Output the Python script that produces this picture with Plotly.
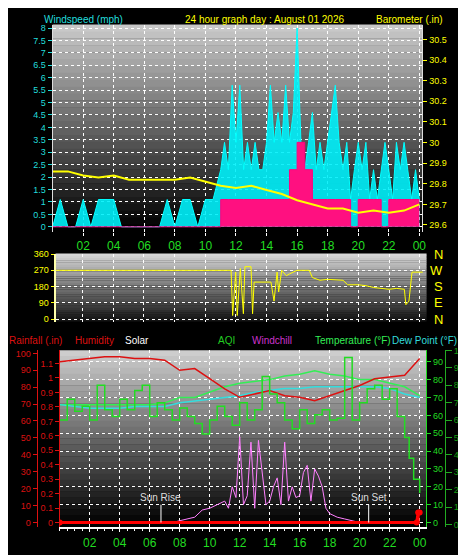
import plotly.graph_objects as go

# ---- data ----
gust_t = [i * 0.5 for i in range(22)] + [11 + i * 0.25 for i in range(53)]
gust = [0, 1.1, 0, 0, 1.1, 0, 1.1, 1.1, 1.1, 0, 0, 0, 0, 0, 0, 1.1,
        0, 1.1, 1.1, 0, 1.1, 1.1,
        2.3, 3.4, 2.3, 5.7, 3.4, 5.7, 2.3, 3.4, 2.3, 3.4, 2.3, 2.3, 3.4, 5.7,
        3.4, 4.6, 3.4, 5.7, 3.4, 4.6, 8.0, 3.4, 2.3, 3.4, 4.6, 2.3, 3.4, 2.3,
        3.4, 4.6, 5.7, 3.4, 2.3, 3.4, 1.1, 2.3, 3.4, 2.3, 3.4, 1.1, 2.3, 1.1,
        2.3, 3.4, 2.3, 1.1, 3.4, 2.3, 3.4, 2.3, 1.1, 2.3, 1.1]
half_hours = [i * 0.5 for i in range(49)]
avg_wind = [0] * 22 + [1.1, 1.1, 1.1, 1.1, 1.1, 1.1, 1.1, 1.1, 1.1, 2.3,
                       3.4, 2.3, 1.1, 1.1, 1.1, 1.1, 1.1, 0, 1.1, 1.1, 1.1, 0,
                       1.1, 1.1, 1.1, 1.1, 1.1]

hours = list(range(25))
baro = [29.86, 29.86, 29.84, 29.83, 29.84, 29.82, 29.82, 29.82, 29.82, 29.83,
        29.81, 29.79, 29.78, 29.79, 29.77, 29.75, 29.72, 29.70, 29.68, 29.68,
        29.66, 29.67, 29.66, 29.67, 29.70]

dir_t = [0, 11.7, 11.8, 12.0, 12.1, 12.3, 12.5, 12.6, 13.0, 13.1, 13.2, 14.3,
         14.5, 14.7, 14.8, 15.0, 15.3, 15.5, 16.0, 16.8, 17.0, 17.5, 18.0,
         19.0, 19.3, 20.0, 20.5, 21.0, 22.0, 22.5, 23.0, 23.1, 23.3, 23.4,
         23.5, 24.2]
wind_dir = [270, 270, 20, 260, 20, 280, 30, 290, 290, 30, 205, 205, 100, 260,
            150, 270, 240, 250, 270, 270, 230, 215, 220, 215, 190, 190, 185,
            175, 165, 170, 165, 80, 100, 200, 260, 260]

temp = [66, 66, 66, 66, 66, 66, 66, 67, 70, 70, 73, 76, 78, 79, 80, 82, 83,
        85, 83, 82, 80, 80, 78, 76, 71]
dew = [66, 65, 64, 64, 64, 65, 65, 65, 67, 68, 69, 70, 71, 73, 74, 75, 75, 76,
       76, 76, 76, 76, 75, 72, 70]
humidity = [95, 96, 97, 98, 98, 97, 97, 96, 90, 91, 85, 79, 74, 76, 78, 75,
            74, 72, 75, 78, 81, 85, 86, 87, 97]

aqi_t = half_hours[:46] + [23.0, 23.3, 23.6, 24.0]
aqi = [60, 72, 65, 68, 60, 80, 66, 62, 72, 66, 77, 80, 62, 70, 66, 60, 67, 62,
       58, 52, 60, 68, 62, 57, 70, 60, 66, 85, 75, 70, 60, 55, 66, 58, 63, 66,
       60, 61, 96, 60, 70, 78, 80, 72, 78, 62, 50, 38, 26, 18]

chill_t = [0, 7.5, 8, 8.5, 9, 9.5, 10, 10.5, 11, 11.25, 11.5, 11.75, 12, 12.25,
           12.5, 12.75, 13, 13.25, 13.5, 13.75, 14, 14.25, 14.5, 14.75, 15,
           15.25, 15.5, 15.75, 16, 16.25, 16.5, 16.75, 17, 17.25, 17.5, 17.75,
           18, 18.5, 19, 19.5, 20, 24]
chill = [0, 0, 1, 2, 3, 7, 8, 10, 12, 8, 20, 14, 48, 10, 15, 45, 8, 46, 28, 10,
         12, 20, 25, 10, 45, 12, 20, 14, 15, 28, 32, 12, 30, 26, 20, 8, 5, 3,
         2, 1, 0, 0]

rain_t = [0, 23.8, 23.9, 24.0]
rain = [0, 0, 0.07, 0.07]

x_ticks = [2, 4, 6, 8, 10, 12, 14, 16, 18, 20, 22, 24]
x_labels = ["02", "04", "06", "08", "10", "12", "14", "16", "18", "20", "22", "00"]
compass = ["N", "W", "S", "E", "N"]
compass_deg = [360, 270, 180, 90, 0]

FONT = "Liberation Sans"
GRID = dict(gridcolor="white", griddash="dot", gridwidth=1, zeroline=False)

fig = go.Figure()

# panel 1: wind + barometer
fig.add_trace(go.Scatter(x=gust_t, y=gust, line=dict(color="#00ffff", width=1),
                         fill="tozeroy", fillcolor="rgba(0,240,250,0.9)", xaxis="x", yaxis="y"))
fig.add_trace(go.Scatter(x=half_hours, y=avg_wind, line=dict(color="#ff0080", width=1, shape="hv"),
                         fill="tozeroy", fillcolor="#ff1080", xaxis="x", yaxis="y"))
fig.add_trace(go.Scatter(x=hours, y=baro, line=dict(color="#ffff00", width=2),
                         xaxis="x", yaxis="y2"))

# panel 2: direction
fig.add_trace(go.Scatter(x=dir_t, y=wind_dir, line=dict(color="#ffff00", width=1),
                         xaxis="x2", yaxis="y3"))

# panel 3
fig.add_trace(go.Scatter(x=chill_t, y=chill, line=dict(color="#ff80ff", width=1),
                         xaxis="x3", yaxis="y4"))
fig.add_trace(go.Scatter(x=aqi_t, y=aqi, line=dict(color="#22dd22", width=1.5, shape="hv"),
                         xaxis="x3", yaxis="y7"))
fig.add_trace(go.Scatter(x=hours, y=temp, line=dict(color="#33ee55", width=1.5),
                         xaxis="x3", yaxis="y4"))
fig.add_trace(go.Scatter(x=hours, y=dew, line=dict(color="#33dddd", width=1.5),
                         xaxis="x3", yaxis="y4"))
fig.add_trace(go.Scatter(x=hours, y=humidity, line=dict(color="#dd1111", width=1.5),
                         xaxis="x3", yaxis="y5"))
fig.add_trace(go.Scatter(x=rain_t, y=rain, line=dict(color="#ff0000", width=3),
                         fill="tozeroy", fillcolor="#ff0000", xaxis="x3", yaxis="y6"))

# gradient backgrounds
shapes = []
n = 30
for xr, yr, top, bottom in [("x domain", "y domain", 200, 0),
                            ("x2 domain", "y3 domain", 215, 20),
                            ("x3 domain", "y4 domain", 205, 0)]:
    for i in range(n):
        g = int(top + (bottom - top) * i / (n - 1))
        shapes.append(dict(type="rect", xref=xr, yref=yr, x0=0, x1=1,
                           y0=1 - (i + 1) / n, y1=1 - i / n + 0.002,
                           fillcolor=f"rgb({g},{g},{g})", line_width=0, layer="below"))
for t in [6.75, 20.6]:
    shapes.append(dict(type="line", xref="x3", yref="y4", x0=t, x1=t, y0=0, y1=10,
                       line=dict(color="white", width=1)))

tick_font = dict(family=FONT, size=9)
fig.update_layout(
    width=466, height=555, margin=dict(l=0, r=0, t=0, b=0),
    paper_bgcolor="black", plot_bgcolor="black", showlegend=False,
    font=dict(family=FONT), shapes=shapes,
    xaxis=dict(domain=[0.0966, 0.897], range=[0, 24.2], anchor="y", tickvals=x_ticks,
               ticktext=x_labels, tickfont=dict(family=FONT, size=12, color="#22dd22"),
               ticks="outside", ticklen=3, tickcolor="white", **GRID),
    yaxis=dict(domain=[0.6, 0.978], range=[-0.2, 8.12], dtick=0.5, anchor="x",
               tickfont=dict(tick_font, color="#22dddd"), ticks="outside", ticklen=4,
               tickcolor="#22dddd", showline=True, linecolor="#dddddd", **GRID),
    yaxis2=dict(overlaying="y", side="right", anchor="x", range=[29.567, 30.57],
                dtick=0.1, tickformat=".1~f", tickfont=dict(tick_font, color="#ffff00"),
                ticks="outside", ticklen=4, tickcolor="#ffff00", showgrid=False,
                showline=True, linecolor="#dddddd", zeroline=False),
    xaxis2=dict(domain=[0.103, 0.906], range=[0.25, 24.45], anchor="y3",
                showticklabels=False, tickvals=x_ticks, **GRID),
    yaxis3=dict(domain=[0.436, 0.560], range=[-13, 362], anchor="x2",
                tickvals=[0, 90, 180, 270, 360], tickfont=dict(tick_font, color="#ffff00"),
                ticks="outside", ticklen=3, tickcolor="#ffff00", showline=True,
                linecolor="#ffffaa", linewidth=2, **GRID),
    xaxis3=dict(domain=[0.112, 0.905], range=[0, 24.43], anchor="y4", tickvals=x_ticks,
                ticktext=x_labels, tickfont=dict(family=FONT, size=12, color="#22dd22"),
                ticks="outside", ticklen=3, tickcolor="white",
                minor=dict(dtick=0.5, ticks="outside", ticklen=2, tickcolor="white"),
                showline=True, linecolor="white", linewidth=2, **GRID),
    yaxis4=dict(domain=[0.06, 0.383], range=[-2.6, 96.3], anchor="x3", side="right",
                dtick=10, tickfont=dict(tick_font, color="#22dd22"), ticks="outside",
                ticklen=4, tickcolor="#22dd22", showline=True, linecolor="#22dd22", **GRID),
    yaxis5=dict(overlaying="y4", side="left", anchor="free", position=0.062,
                range=[-2.8, 101.7], dtick=10, tickfont=dict(tick_font, color="#dd1111"),
                ticks="outside", ticklen=4, tickcolor="#dd1111", showline=True,
                linecolor="#dd1111", showgrid=False, zeroline=False),
    yaxis6=dict(overlaying="y4", side="left", anchor="x3", range=[-0.032, 1.19],
                dtick=0.1, tickformat=".1~f", tickfont=dict(tick_font, color="#dd1111"),
                ticks="outside", ticklen=4, tickcolor="#dd1111", showline=True,
                linecolor="#dd1111", showgrid=False, zeroline=False),
    yaxis7=dict(overlaying="y4", side="right", anchor="free", position=0.946,
                range=[-1.6, 100], dtick=10, tickfont=dict(tick_font, color="#119911"),
                ticks="outside", ticklen=6, tickcolor="#22aa22", showline=True,
                linecolor="#22aa22", showgrid=False, zeroline=False),
)

ann = [
    ("Windspeed (mph)", 0.075, 1.0, "#22dddd", "left"),
    ("24 hour graph day : August 01 2026", 0.555, 1.0, "#ffff00", "center"),
    ("Barometer (.in)", 0.943, 1.0, "#ffff00", "right"),
    ("Rainfall (.in)", 0.0, 0.414, "#dd1111", "left"),
    ("Humidity", 0.143, 0.414, "#dd1111", "left"),
    ("Solar", 0.252, 0.414, "white", "left"),
    ("AQI", 0.453, 0.414, "#22cc22", "left"),
    ("Windchill", 0.527, 0.414, "#cc33cc", "left"),
    ("Temperature (°F)", 0.662, 0.414, "#33ee55", "left"),
    ("Dew Point (°F)", 0.975, 0.414, "#33dddd", "right"),
]
for text, x, y, color, align in ann:
    fig.add_annotation(text=text, x=x, y=y, xref="paper", yref="paper", showarrow=False,
                       xanchor=align, yanchor="top", borderpad=0,
                       font=dict(family=FONT, size=10, color=color))
for lab, deg in zip(compass, compass_deg):
    fig.add_annotation(text=lab, x=0.945, y=deg, xref="paper", yref="y3", showarrow=False,
                       font=dict(family=FONT, size=13, color="#ffff00"))
for lab, t in [("Sun Rise", 6.75), ("Sun Set", 20.6)]:
    fig.add_annotation(text=lab, x=t, y=10, xref="x3", yref="y4", showarrow=False,
                       yanchor="bottom", font=dict(family=FONT, size=10, color="#dddddd"))

fig.write_html("out.html")
